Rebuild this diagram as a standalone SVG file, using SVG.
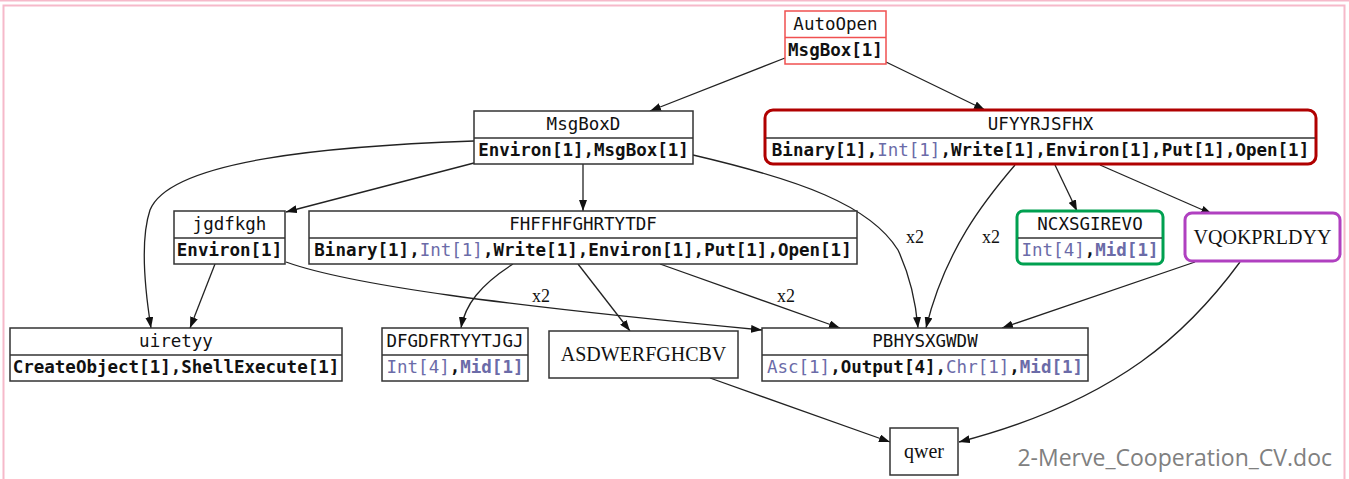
<svg xmlns="http://www.w3.org/2000/svg" width="1349" height="479" viewBox="0 0 1349 479">
<style>
.frame{fill:none;stroke:#f6b9ca;stroke-width:2}
.box{fill:#fff;stroke:#333;stroke-width:1.5}
.div{stroke:#333;stroke-width:1.5}
.hd{font-family:"DejaVu Sans Mono",monospace;font-size:17.5px;fill:#111;text-anchor:middle}
.mt{font-family:"DejaVu Sans Mono",monospace;font-size:17.5px;font-weight:bold;fill:#111;text-anchor:middle}
.b{fill:#6b6ba8;font-weight:normal}
.bb{fill:#6b6ba8}
.sf{font-family:"Liberation Serif",serif;font-size:20px;fill:#111;text-anchor:middle}
.lbl{font-family:"Liberation Serif",serif;font-size:18px;fill:#111;text-anchor:middle}
.e{fill:none;stroke:#222;stroke-width:1.3}
</style>
<defs>
<marker id="ah" markerWidth="11" markerHeight="8" refX="11" refY="4" orient="auto" markerUnits="userSpaceOnUse">
<path d="M0,0 L11,4 L0,8 z" fill="#111"/>
</marker>
</defs>
<rect width="1349" height="479" fill="#fff"/>
<line x1="0" y1="0.5" x2="1349" y2="0.5" class="frame"/>
<path d="M3.5,479 L3.5,5.5 L1344.5,5.5 L1344.5,479" class="frame"/>

<g id="edges">
<path class="e" marker-end="url(#ah)" d="M785,58 L650,111"/>
<path class="e" marker-end="url(#ah)" d="M886,62 L985,110"/>
<path class="e" marker-end="url(#ah)" d="M474,141 C330,146 170,160 150,210 C140,240 145,290 151,328"/>
<path class="e" marker-end="url(#ah)" d="M474,163 L286,212"/>
<path class="e" marker-end="url(#ah)" d="M583,164 L583,211"/>
<path class="e" marker-end="url(#ah)" d="M693,155 C800,180 870,205 898,250 C912,280 916,305 918,328"/>
<path class="e" marker-end="url(#ah)" d="M1015,165 C985,200 945,250 926,328"/>
<path class="e" marker-end="url(#ah)" d="M1055,165 L1077,211"/>
<path class="e" marker-end="url(#ah)" d="M1100,165 L1212,214"/>
<path class="e" marker-end="url(#ah)" d="M215,264 L190,328"/>
<path class="e" marker-end="url(#ah)" d="M286,262 C350,285 500,305 762,330"/>
<path class="e" marker-end="url(#ah)" d="M513,264 C480,285 465,305 461,328"/>
<path class="e" marker-end="url(#ah)" d="M578,264 L630,331"/>
<path class="e" marker-end="url(#ah)" d="M660,264 L840,328"/>
<path class="e" marker-end="url(#ah)" d="M1195,262 L1002,328"/>
<path class="e" marker-end="url(#ah)" d="M1240,262 C1190,330 1120,400 959,442"/>
<path class="e" marker-end="url(#ah)" d="M710,378 L890,442"/>
<text class="lbl" x="915" y="243">x2</text>
<text class="lbl" x="991" y="243">x2</text>
<text class="lbl" x="541" y="302">x2</text>
<text class="lbl" x="786" y="302">x2</text>
</g>

<g id="AutoOpen">
<rect x="785" y="11" width="101" height="53" fill="#fff" stroke="#f05050" stroke-width="1.5"/>
<line x1="785" y1="37.5" x2="886" y2="37.5" stroke="#f05050" stroke-width="1.5"/>
<text class="hd" x="835.5" y="30">AutoOpen</text>
<text class="mt" x="835.5" y="56">MsgBox[1]</text>
</g>

<g id="MsgBoxD">
<rect class="box" x="474" y="111" width="219" height="53"/>
<line class="div" x1="474" y1="138" x2="693" y2="138"/>
<text class="hd" x="583.5" y="130">MsgBoxD</text>
<text class="mt" x="583.5" y="156">Environ[1],MsgBox[1]</text>
</g>

<g id="UFYYRJSFHX">
<rect x="765" y="110" width="551" height="54" rx="8" fill="#fff" stroke="#b00000" stroke-width="3"/>
<line x1="766" y1="138" x2="1315" y2="138" stroke="#333" stroke-width="1.5"/>
<text class="hd" x="1040.5" y="130">UFYYRJSFHX</text>
<text class="mt" x="1040.5" y="156">Binary[1],<tspan class="b">Int[1]</tspan>,Write[1],Environ[1],Put[1],Open[1]</text>
</g>

<g id="jgdfkgh">
<rect class="box" x="174" y="211" width="111" height="53"/>
<line class="div" x1="174" y1="238" x2="285" y2="238"/>
<text class="hd" x="229.5" y="230">jgdfkgh</text>
<text class="mt" x="229.5" y="256">Environ[1]</text>
</g>

<g id="FHFFHFGHRTYTDF">
<rect class="box" x="309" y="211" width="548" height="53"/>
<line class="div" x1="309" y1="238" x2="857" y2="238"/>
<text class="hd" x="583" y="230">FHFFHFGHRTYTDF</text>
<text class="mt" x="583" y="256">Binary[1],<tspan class="b">Int[1]</tspan>,Write[1],Environ[1],Put[1],Open[1]</text>
</g>

<g id="NCXSGIREVO">
<rect x="1017" y="211" width="146" height="53" rx="6" fill="#fff" stroke="#00a050" stroke-width="3"/>
<line x1="1018" y1="238" x2="1162" y2="238" stroke="#333" stroke-width="1.5"/>
<text class="hd" x="1090" y="230">NCXSGIREVO</text>
<text class="mt" x="1090" y="256"><tspan class="b">Int[4]</tspan>,<tspan class="bb">Mid[1]</tspan></text>
</g>

<g id="VQOKPRLDYY">
<rect x="1185" y="213" width="155" height="48" rx="7" fill="#fff" stroke="#b040c0" stroke-width="3"/>
<text class="sf" x="1262.5" y="244">VQOKPRLDYY</text>
</g>

<g id="uiretyy">
<rect class="box" x="10" y="328" width="332" height="53"/>
<line class="div" x1="10" y1="355" x2="342" y2="355"/>
<text class="hd" x="176" y="347">uiretyy</text>
<text class="mt" x="176" y="373">CreateObject[1],ShellExecute[1]</text>
</g>

<g id="DFGDFRTYYTJGJ">
<rect class="box" x="382" y="328" width="146" height="53"/>
<line class="div" x1="382" y1="355" x2="528" y2="355"/>
<text class="hd" x="455" y="347">DFGDFRTYYTJGJ</text>
<text class="mt" x="455" y="373"><tspan class="b">Int[4]</tspan>,<tspan class="bb">Mid[1]</tspan></text>
</g>

<g id="ASDWERFGHCBV">
<rect class="box" x="549" y="331" width="189" height="47"/>
<text class="sf" x="643.5" y="361">ASDWERFGHCBV</text>
</g>

<g id="PBHYSXGWDW">
<rect class="box" x="762" y="328" width="326" height="53"/>
<line class="div" x1="762" y1="355" x2="1088" y2="355"/>
<text class="hd" x="925" y="347">PBHYSXGWDW</text>
<text class="mt" x="925" y="373"><tspan class="b">Asc[1]</tspan>,Output[4],<tspan class="b">Chr[1]</tspan>,<tspan class="bb">Mid[1]</tspan></text>
</g>

<g id="qwer">
<rect class="box" x="890" y="428" width="68" height="47"/>
<text class="sf" x="924" y="458">qwer</text>
</g>

<text x="1332" y="466" font-family="Open Sans, sans-serif" font-size="23" fill="#808080" text-anchor="end">2-Merve_Cooperation_CV.doc</text>
</svg>
